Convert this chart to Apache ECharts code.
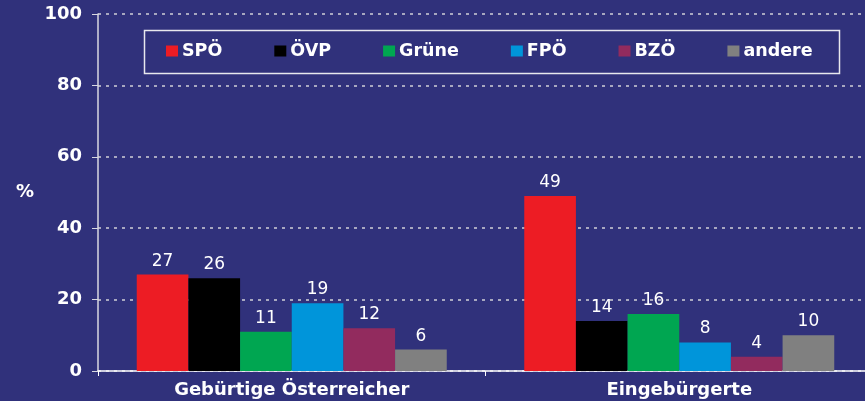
<!DOCTYPE html>
<html>
<head>
<meta charset="utf-8">
<script src="https://cdn.jsdelivr.net/npm/echarts@6/dist/echarts.min.js"></script>
<style>
  html, body { margin: 0; padding: 0; background: #30317B; }
  #chart { width: 865px; height: 401px; }
</style>
</head>
<body>
<div id="chart"></div>
<script>
var categories = ['Gebürtige Österreicher', 'Eingebürgerte'];
var parties = ['SPÖ', 'ÖVP', 'Grüne', 'FPÖ', 'BZÖ', 'andere'];
var colors = ['#ED1C24', '#000000', '#00A651', '#0095DA', '#922B5E', '#808080'];
var spo = [27, 49];
var ovp = [26, 14];
var grune = [11, 16];
var fpo = [19, 8];
var bzo = [12, 4];
var andere = [6, 10];
var values = [spo, ovp, grune, fpo, bzo, andere];
var yTicks = [0, 20, 40, 60, 80, 100];

var FONT = 'DejaVu Sans';

var chart = echarts.init(document.getElementById('chart'));

var series = parties.map(function (name, i) {
  return {
    name: name,
    type: 'bar',
    data: values[i],
    barGap: '0%',
    barCategoryGap: '20%',
    itemStyle: { color: colors[i] },
    label: {
      show: true,
      position: 'top',
      distance: 5,
      color: '#ffffff',
      fontFamily: FONT,
      fontSize: 17
    }
  };
});

var option = {
  backgroundColor: '#30317B',
  animation: false,
  legend: {
    data: parties,
    left: 166,
    top: 42,
    padding: 0,
    itemWidth: 12,
    itemHeight: 11,
    itemGap: 52,
    icon: 'rect',
    textStyle: {
      color: '#ffffff',
      fontFamily: FONT,
      fontWeight: 'bold',
      fontSize: 17.5,
      padding: [0, 0, 0, -1]
    }
  },
  // frame round the legend
  graphic: [{
    type: 'rect',
    left: 142,
    top: 28,
    shape: { width: 695, height: 43 },
    style: { fill: 'none', stroke: '#e8e8ee', lineWidth: 1.5 },
    silent: true
  }],
  grid: {
    left: 98,
    top: 14,
    bottom: 30,
    width: 775,
    outerBoundsMode: 'none'
  },
  xAxis: {
    type: 'category',
    data: categories,
    axisLine: { lineStyle: { color: '#ffffff', width: 1.5 } },
    axisTick: { show: true, length: 5, lineStyle: { color: '#ffffff' } },
    axisLabel: {
      color: '#ffffff',
      fontFamily: FONT,
      fontWeight: 'bold',
      fontSize: 18,
      margin: 10
    }
  },
  yAxis: {
    type: 'value',
    min: yTicks[0],
    max: yTicks[yTicks.length - 1],
    interval: 20,
    name: '%',
    nameLocation: 'middle',
    nameRotate: 0,
    nameGap: 64,
    nameTextStyle: {
      color: '#ffffff',
      fontFamily: FONT,
      fontWeight: 'bold',
      fontSize: 18
    },
    axisLine: { show: true, lineStyle: { color: '#d8d8e0', width: 1.5 } },
    axisTick: { show: true, length: 6, lineStyle: { color: '#d8d8e0' } },
    axisLabel: {
      color: '#ffffff',
      fontFamily: FONT,
      fontWeight: 'bold',
      fontSize: 18,
      margin: 16
    },
    splitLine: {
      show: true,
      lineStyle: { color: '#d0d0d8', width: 1.5, type: [3, 5] }
    }
  },
  series: series
};

chart.setOption(option);
</script>
</body>
</html>
